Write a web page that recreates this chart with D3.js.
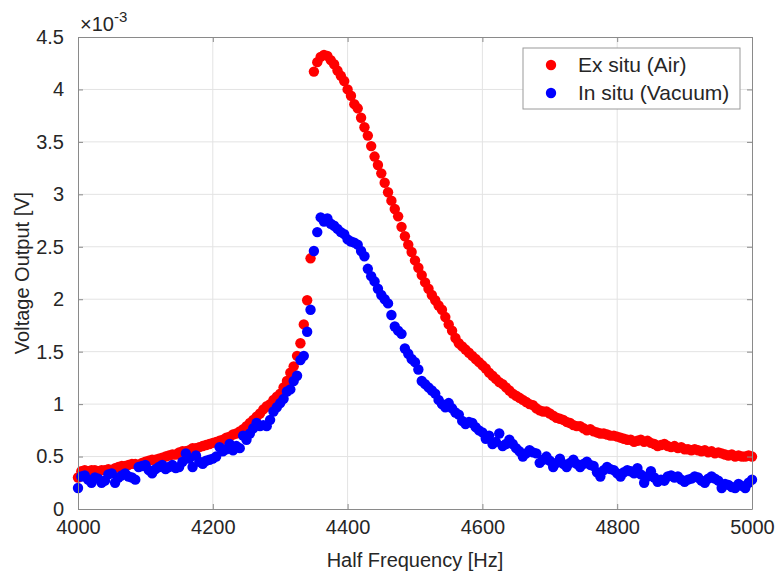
<!DOCTYPE html>
<html>
<head>
<meta charset="utf-8">
<script src="https://cdn.jsdelivr.net/npm/d3@7"></script>
<style>
  body { margin: 0; background: #fff; }
  text { font-family: "Liberation Sans", Arial, Helvetica, sans-serif; fill: #262626; }
</style>
</head>
<body>
<div id="chart"></div>
<script>
// Half frequency sweep [Hz], 5 Hz steps
const freqs = [
  4000, 4005, 4010, 4015, 4020, 4025, 4030, 4035, 4040, 4045,
  4050, 4055, 4060, 4065, 4070, 4075, 4080, 4085, 4090, 4095,
  4100, 4105, 4110, 4115, 4120, 4125, 4130, 4135, 4140, 4145,
  4150, 4155, 4160, 4165, 4170, 4175, 4180, 4185, 4190, 4195,
  4200, 4205, 4210, 4215, 4220, 4225, 4230, 4235, 4240, 4245,
  4250, 4255, 4260, 4265, 4270, 4275, 4280, 4285, 4290, 4295,
  4300, 4305, 4310, 4315, 4320, 4325, 4330, 4335, 4340, 4345,
  4350, 4355, 4360, 4365, 4370, 4375, 4380, 4385, 4390, 4395,
  4400, 4405, 4410, 4415, 4420, 4425, 4430, 4435, 4440, 4445,
  4450, 4455, 4460, 4465, 4470, 4475, 4480, 4485, 4490, 4495,
  4500, 4505, 4510, 4515, 4520, 4525, 4530, 4535, 4540, 4545,
  4550, 4555, 4560, 4565, 4570, 4575, 4580, 4585, 4590, 4595,
  4600, 4605, 4610, 4615, 4620, 4625, 4630, 4635, 4640, 4645,
  4650, 4655, 4660, 4665, 4670, 4675, 4680, 4685, 4690, 4695,
  4700, 4705, 4710, 4715, 4720, 4725, 4730, 4735, 4740, 4745,
  4750, 4755, 4760, 4765, 4770, 4775, 4780, 4785, 4790, 4795,
  4800, 4805, 4810, 4815, 4820, 4825, 4830, 4835, 4840, 4845,
  4850, 4855, 4860, 4865, 4870, 4875, 4880, 4885, 4890, 4895,
  4900, 4905, 4910, 4915, 4920, 4925, 4930, 4935, 4940, 4945,
  4950, 4955, 4960, 4965, 4970, 4975, 4980, 4985, 4990, 4995,
  5000
];

// Ex situ (Air) voltage, units of 1e-3 V
const exSitu = [
  0.30, 0.36, 0.37, 0.36, 0.37, 0.37, 0.36, 0.37, 0.37, 0.38,
  0.37, 0.39, 0.40, 0.41, 0.41, 0.42, 0.43, 0.43, 0.42, 0.44,
  0.45, 0.46, 0.47, 0.47, 0.48, 0.49, 0.50, 0.51, 0.52, 0.52,
  0.54, 0.55, 0.55, 0.56, 0.58, 0.58, 0.59, 0.60, 0.61, 0.62,
  0.63, 0.64, 0.65, 0.66, 0.68, 0.69, 0.71, 0.72, 0.74, 0.76,
  0.79, 0.82, 0.85, 0.88, 0.91, 0.95, 0.98, 1.00, 1.04, 1.07,
  1.10, 1.16, 1.22, 1.30, 1.36, 1.46, 1.58, 1.76, 1.99, 2.39,
  4.17, 4.26, 4.31, 4.33, 4.32, 4.28, 4.24, 4.18, 4.13, 4.08,
  4.00, 3.94, 3.86, 3.82, 3.73, 3.64, 3.56, 3.46, 3.36, 3.28,
  3.20, 3.11, 3.02, 2.94, 2.86, 2.79, 2.69, 2.60, 2.52, 2.45,
  2.37, 2.30, 2.23, 2.16, 2.10, 2.04, 1.99, 1.94, 1.90, 1.83,
  1.76, 1.70, 1.63, 1.58, 1.55, 1.52, 1.49, 1.46, 1.43, 1.40,
  1.37, 1.34, 1.30, 1.27, 1.24, 1.21, 1.19, 1.16, 1.13, 1.10,
  1.08, 1.06, 1.04, 1.02, 1.00, 0.99, 0.96, 0.94, 0.93, 0.93,
  0.91, 0.89, 0.87, 0.86, 0.85, 0.83, 0.82, 0.80, 0.79, 0.79,
  0.77, 0.75, 0.76, 0.74, 0.73, 0.72, 0.72, 0.71, 0.70, 0.70,
  0.69, 0.68, 0.67, 0.66, 0.66, 0.64, 0.65, 0.66, 0.64, 0.65,
  0.63, 0.62, 0.60, 0.61, 0.62, 0.60, 0.59, 0.60, 0.58, 0.59,
  0.57, 0.57, 0.56, 0.57, 0.56, 0.55, 0.56, 0.54, 0.55, 0.53,
  0.54, 0.53, 0.52, 0.51, 0.52, 0.50, 0.51, 0.50, 0.50, 0.51,
  0.50
];

// In situ (Vacuum) voltage, units of 1e-3 V
const inSitu = [
  0.20, 0.31, 0.32, 0.28, 0.25, 0.30, 0.29, 0.25, 0.27, 0.33,
  0.34, 0.25, 0.30, 0.32, 0.34, 0.31, 0.30, 0.28, 0.40, 0.41,
  0.42, 0.37, 0.34, 0.38, 0.40, 0.42, 0.38, 0.40, 0.42, 0.39,
  0.40, 0.45, 0.53, 0.48, 0.40, 0.51, 0.45, 0.43, 0.46, 0.47,
  0.48, 0.50, 0.59, 0.55, 0.57, 0.62, 0.56, 0.60, 0.58, 0.70,
  0.66, 0.72, 0.77, 0.82, 0.79, 0.80, 0.79, 0.85, 0.93, 0.97,
  1.01, 1.05, 1.12, 1.14, 1.22, 1.27, 1.42, 1.46, 1.69, 1.90,
  2.46, 2.64, 2.78, 2.74, 2.77, 2.72, 2.70, 2.67, 2.64, 2.62,
  2.57, 2.55, 2.54, 2.52, 2.46, 2.41, 2.29, 2.22, 2.17, 2.10,
  2.04, 2.00, 1.96, 1.85, 1.74, 1.70, 1.67, 1.53, 1.48, 1.43,
  1.40, 1.33, 1.22, 1.19, 1.16, 1.13, 1.10, 1.04, 1.00, 0.97,
  1.01, 0.96, 0.92, 0.90, 0.84, 0.81, 0.83, 0.82, 0.78, 0.75,
  0.73, 0.67, 0.70, 0.62, 0.64, 0.72, 0.60, 0.62, 0.66, 0.62,
  0.58, 0.55, 0.50, 0.53, 0.56, 0.54, 0.53, 0.44, 0.47, 0.50,
  0.46, 0.40, 0.44, 0.48, 0.43, 0.40, 0.44, 0.47, 0.43, 0.40,
  0.43, 0.45, 0.42, 0.41, 0.35, 0.31, 0.37, 0.40, 0.38, 0.37,
  0.34, 0.31, 0.35, 0.37, 0.36, 0.34, 0.39, 0.33, 0.25, 0.31,
  0.36, 0.30, 0.26, 0.28, 0.27, 0.31, 0.32, 0.30, 0.31, 0.28,
  0.26, 0.28, 0.29, 0.31, 0.30, 0.27, 0.25, 0.29, 0.31, 0.29,
  0.27, 0.20, 0.24, 0.23, 0.21, 0.20, 0.24, 0.22, 0.20, 0.25,
  0.28
];

const xTicks = [4000, 4200, 4400, 4600, 4800, 5000];
const yTicks = [0, 0.5, 1, 1.5, 2, 2.5, 3, 3.5, 4, 4.5];
const seriesNames = ["Ex situ (Air)", "In situ (Vacuum)"];
const seriesColors = ["#ff0000", "#0000ff"];

const width = 778, height = 575;
const margin = { top: 37, right: 26, bottom: 66, left: 78 };
const innerW = width - margin.left - margin.right;
const innerH = height - margin.top - margin.bottom;

const svg = d3.select("#chart").append("svg")
  .attr("width", width)
  .attr("height", height);

const g = svg.append("g")
  .attr("transform", `translate(${margin.left},${margin.top})`);

const x = d3.scaleLinear().domain([4000, 5000]).range([0, innerW]);
const y = d3.scaleLinear().domain([0, 4.5]).range([innerH, 0]);

// grid
g.append("g").selectAll("line")
  .data(xTicks.slice(1, -1))
  .join("line")
  .attr("x1", d => x(d)).attr("x2", d => x(d))
  .attr("y1", 0).attr("y2", innerH)
  .attr("stroke", "#e3e3e3").attr("stroke-width", 1);

g.append("g").selectAll("line")
  .data(yTicks.slice(1, -1))
  .join("line")
  .attr("y1", d => y(d)).attr("y2", d => y(d))
  .attr("x1", 0).attr("x2", innerW)
  .attr("stroke", "#e3e3e3").attr("stroke-width", 1);

// points
const series = [exSitu, inSitu];
series.forEach((vals, i) => {
  g.append("g").selectAll("circle")
    .data(vals.map((v, j) => ({ f: freqs[j], v })))
    .join("circle")
    .attr("cx", d => x(d.f))
    .attr("cy", d => y(d.v))
    .attr("r", 5.2)
    .attr("fill", seriesColors[i]);
});

// axes (ticks inward, box)
const fmtY = d => (d === 0 ? "0" : String(d));
const xAxis = g.append("g")
  .attr("transform", `translate(0,${innerH})`)
  .call(d3.axisBottom(x).tickValues(xTicks).tickSizeInner(-5).tickSizeOuter(0).tickPadding(11).tickFormat(d3.format("d")));
const yAxis = g.append("g")
  .call(d3.axisLeft(y).tickValues(yTicks).tickSizeInner(-5).tickSizeOuter(0).tickPadding(14).tickFormat(fmtY));
const xTop = g.append("g")
  .call(d3.axisTop(x).tickValues(xTicks).tickSizeInner(-5).tickSizeOuter(0).tickFormat(""));
const yRight = g.append("g")
  .attr("transform", `translate(${innerW},0)`)
  .call(d3.axisRight(y).tickValues(yTicks).tickSizeInner(-5).tickSizeOuter(0).tickFormat(""));

[xAxis, yAxis, xTop, yRight].forEach(a => {
  a.selectAll(".domain").attr("stroke", "#8a8a8a");
  a.selectAll(".tick line").attr("stroke", "#8a8a8a");
  a.selectAll(".tick text").attr("fill", "#262626").style("font-size", "20px");
});

// exponent label
const expo = svg.append("text")
  .attr("x", margin.left + 2)
  .attr("y", 31)
  .style("font-size", "20px");
expo.append("tspan").text("\u00d710");
expo.append("tspan").attr("dy", -9).style("font-size", "15px").text("-3");

// axis labels
svg.append("text")
  .attr("x", margin.left + innerW / 2)
  .attr("y", 567)
  .attr("text-anchor", "middle")
  .style("font-size", "20px")
  .text("Half Frequency [Hz]");

svg.append("text")
  .attr("transform", `translate(29,${margin.top + innerH / 2}) rotate(-90)`)
  .attr("text-anchor", "middle")
  .style("font-size", "20px")
  .text("Voltage Output [V]");

// legend
const legend = svg.append("g").attr("transform", "translate(523,48)");
legend.append("rect")
  .attr("width", 217).attr("height", 61)
  .attr("fill", "#fff").attr("stroke", "#9a9a9a");
seriesNames.forEach((name, i) => {
  legend.append("circle")
    .attr("cx", 28).attr("cy", 17 + i * 28)
    .attr("r", 5.2).attr("fill", seriesColors[i]);
  legend.append("text")
    .attr("x", 55).attr("y", 17 + i * 28)
    .attr("dy", "0.35em")
    .style("font-size", "21px")
    .text(name);
});
</script>
</body>
</html>
